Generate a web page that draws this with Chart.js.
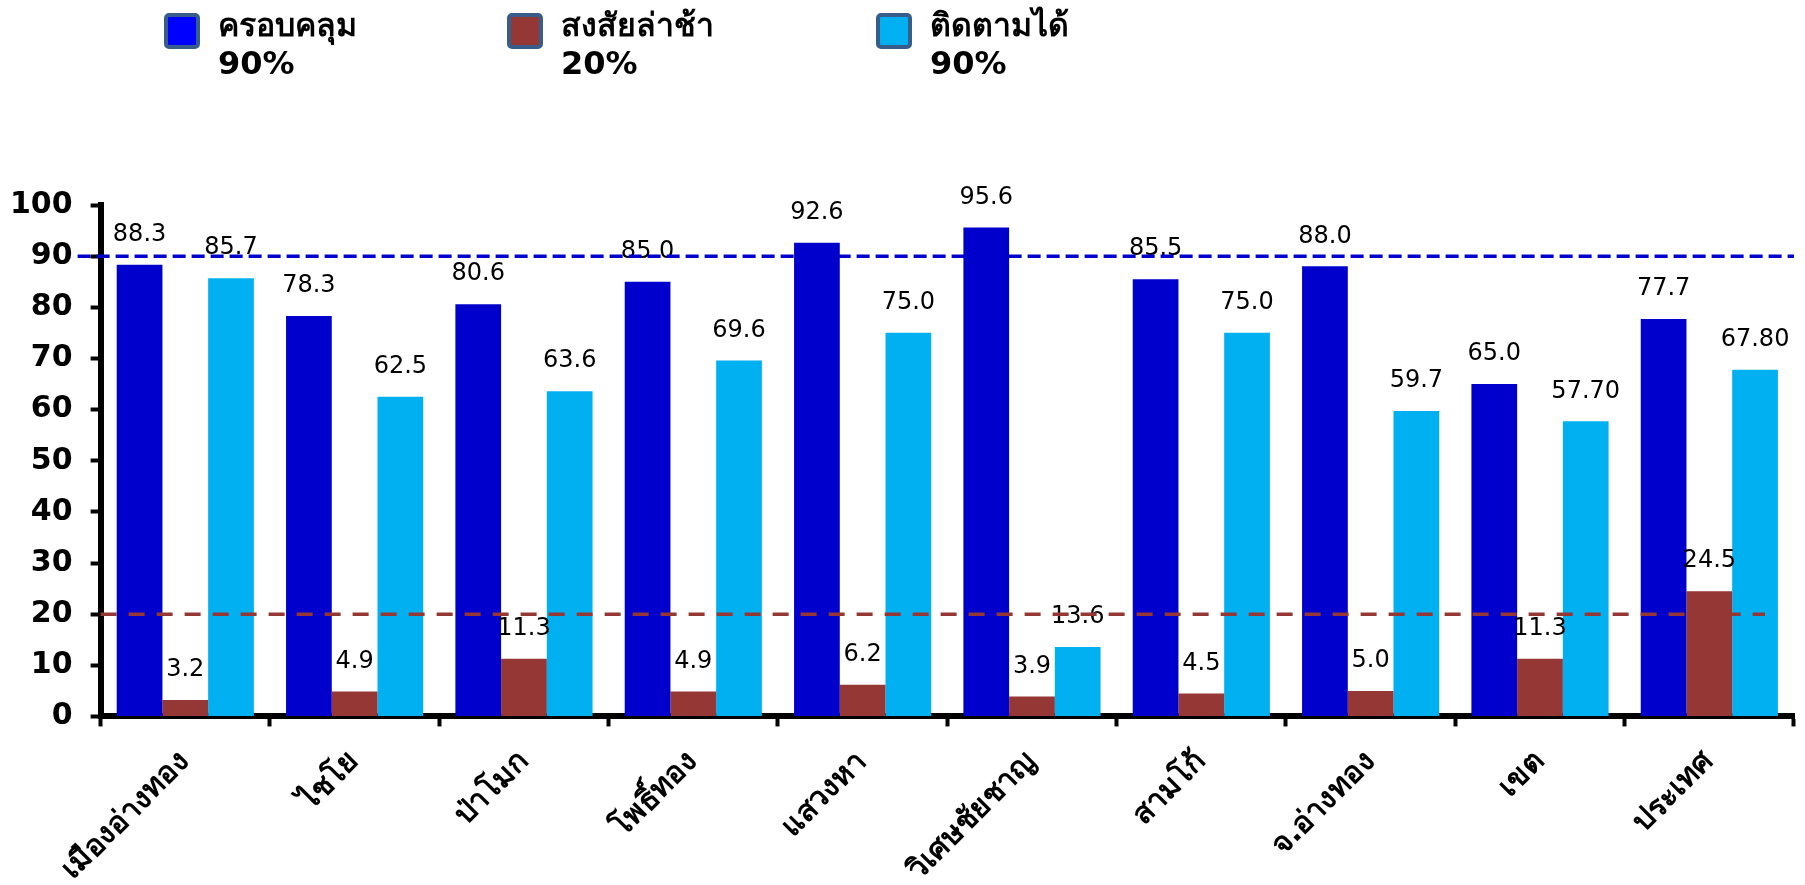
<!DOCTYPE html>
<html>
<head>
<meta charset="utf-8">
<script src="https://cdn.jsdelivr.net/npm/chart.js@4.4.0/dist/chart.umd.min.js"></script>
<style>
    body { margin: 0; background: #fff; }
    .wrap { width: 1805px; height: 885px; position: relative; }
</style>
</head>
<body>
<div class="wrap"><canvas id="chart"></canvas></div>
<script>
const districts = ['เมืองอ่างทอง', 'ไชโย', 'ป่าโมก', 'โพธิ์ทอง', 'แสวงหา', 'วิเศษชัยชาญ', 'สามโก้', 'จ.อ่างทอง', 'เขต', 'ประเทศ'];
const coverage = [88.3, 78.3, 80.6, 85.0, 92.6, 95.6, 85.5, 88.0, 65.0, 77.7];
const delayed = [3.2, 4.9, 11.3, 4.9, 6.2, 3.9, 4.5, 5.0, 11.3, 24.5];
const followed = [85.7, 62.5, 63.6, 69.6, 75.0, 13.6, 75.0, 59.7, 57.70, 67.80];
const followDigits = [1, 1, 1, 1, 1, 1, 1, 1, 2, 2];
const seriesNames = ['ครอบคลุม', 'สงสัยล่าช้า', 'ติดตามได้'];
const targets = [90, 20, 90];

const barColors = ['rgb(0,0,204)', 'rgb(149,55,53)', 'rgb(0,176,240)'];
const legendColors = ['rgb(0,0,255)', 'rgb(149,55,53)', 'rgb(0,176,240)'];
const thaiFont = "Tahoma, 'DejaVu Sans', sans-serif";

// value labels above every bar
const valueLabels = {
    id: 'valueLabels',
    afterDatasetsDraw(chart) {
        const ctx = chart.ctx;
        ctx.save();
        ctx.font = "24px 'DejaVu Sans'";
        ctx.fillStyle = '#000';
        ctx.textAlign = 'center';
        ctx.textBaseline = 'middle';
        chart.data.datasets.forEach((ds, i) => {
            chart.getDatasetMeta(i).data.forEach((bar, j) => {
                const digits = ds.digits ? ds.digits[j] : 1;
                ctx.fillText(ds.data[j].toFixed(digits), bar.x, bar.y - 30);
            });
        });
        ctx.restore();
    }
};

// dashed target lines, drawn on top
const targetLines = {
    id: 'targetLines',
    afterDraw(chart) {
        const ctx = chart.ctx;
        const y = chart.scales.y;
        const area = chart.chartArea;
        const lines = [
            { value: targets[0], color: 'rgb(0,0,204)', from: area.left - 23, to: area.right, dash: [13, 6] },
            { value: targets[1], color: 'rgb(149,55,53)', from: area.left, to: area.right - 29, dash: [16, 12] }
        ];
        ctx.save();
        ctx.lineWidth = 3.5;
        lines.forEach(l => {
            const py = y.getPixelForValue(l.value);
            ctx.strokeStyle = l.color;
            ctx.setLineDash(l.dash);
            ctx.beginPath();
            ctx.moveTo(l.from, py);
            ctx.lineTo(l.to, py);
            ctx.stroke();
        });
        ctx.restore();
    }
};

// two-line legend at the top
const topLegend = {
    id: 'topLegend',
    afterDraw(chart) {
        const ctx = chart.ctx;
        const xs = [164, 507, 876];
        ctx.save();
        chart.data.datasets.forEach((ds, i) => {
            const x = xs[i];
            ctx.fillStyle = legendColors[i];
            ctx.strokeStyle = 'rgb(56,93,138)';
            ctx.lineWidth = 4;
            ctx.beginPath();
            ctx.roundRect(x + 2, 15, 32, 32, 3);
            ctx.fill();
            ctx.stroke();
            ctx.fillStyle = '#000';
            ctx.font = "bold 32px " + thaiFont;
            ctx.textAlign = 'left';
            ctx.textBaseline = 'alphabetic';
            ctx.fillText(ds.label, x + 54, 36);
            ctx.fillText(targets[i] + '%', x + 54, 74);
        });
        ctx.restore();
    }
};

new Chart(document.getElementById('chart'), {
    type: 'bar',
    data: {
        labels: districts,
        datasets: [
            { label: seriesNames[0], data: coverage, backgroundColor: barColors[0] },
            { label: seriesNames[1], data: delayed, backgroundColor: barColors[1] },
            { label: seriesNames[2], data: followed, backgroundColor: barColors[2], digits: followDigits }
        ]
    },
    options: {
        responsive: true,
        maintainAspectRatio: false,
        animation: false,
        datasets: {
            bar: {
                categoryPercentage: 0.81,
                barPercentage: 1.0
            }
        },
        layout: {
            padding: { top: 205, right: 11, left: -8, bottom: -21 }
        },
        scales: {
            y: {
                min: 0,
                max: 100,
                ticks: {
                    stepSize: 10,
                    color: '#000',
                    padding: 18,
                    font: { family: 'DejaVu Sans', size: 30, weight: 'bold' }
                },
                grid: {
                    drawOnChartArea: false,
                    tickLength: 10,
                    tickWidth: 4,
                    tickColor: '#000'
                },
                border: { color: '#000', width: 6 }
            },
            x: {
                // rotated first label may hang left of the axis, like the original
                afterFit: (scale) => { scale.paddingLeft = 0; },
                ticks: {
                    color: '#000',
                    maxRotation: 45,
                    minRotation: 45,
                    padding: 18,
                    font: { family: thaiFont, size: 30, weight: 'bold' }
                },
                grid: {
                    drawOnChartArea: false,
                    tickLength: 10,
                    tickWidth: 4,
                    tickColor: '#000'
                },
                border: { color: '#000', width: 6 }
            }
        },
        plugins: {
            legend: { display: false },
            tooltip: { enabled: false }
        }
    },
    plugins: [valueLabels, targetLines, topLegend]
});
</script>
</body>
</html>
